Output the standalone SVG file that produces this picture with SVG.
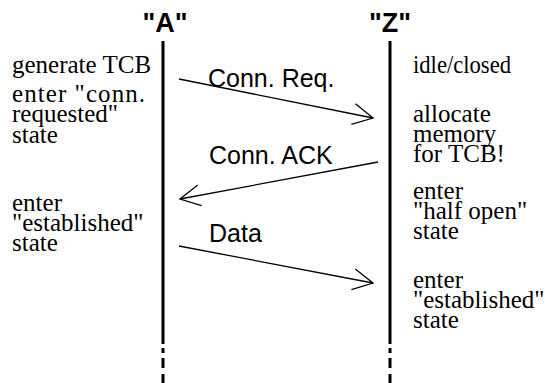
<svg xmlns="http://www.w3.org/2000/svg" width="545" height="383" viewBox="0 0 545 383">
  <style>
    .head { font-family: "Liberation Sans", Arial, sans-serif; font-weight: bold; font-size: 27px; fill: #000; }
    .msg { font-family: "Liberation Sans", Arial, sans-serif; font-size: 25px; fill: #000; }
    .note { font-family: "Liberation Serif", "Times New Roman", serif; font-size: 25px; fill: #000; }
    .life { stroke: #000; stroke-width: 3; fill: none; }
    .arrow { stroke: #000; stroke-width: 1.3; fill: none; marker-end: url(#open); }
  </style>
  <defs>
    <marker id="open" markerUnits="userSpaceOnUse" viewBox="-22 -13 24 26" markerWidth="24" markerHeight="26" refX="0" refY="0" orient="auto">
      <path d="M-20,-10.5 L0,0 L-20,10.5" fill="none" stroke="#000" stroke-width="1.3"/>
    </marker>
  </defs>
  <rect width="545" height="383" fill="#fff"/>

  <!-- endpoint A -->
  <g id="host-a">
    <text class="head" x="165" y="32" text-anchor="middle">"A"</text>
    <line class="life" x1="163" y1="41" x2="163" y2="344"/>
    <path class="life" d="M163,348 V353 M163,358 V368 M163,374 V383"/>
    <text class="note" x="12" y="73">generate TCB</text>
    <text class="note" x="12" y="102" textLength="133" lengthAdjust="spacing">enter "conn.</text>
    <text class="note" x="12" y="122">requested"</text>
    <text class="note" x="12" y="143">state</text>
    <text class="note" x="12" y="211">enter</text>
    <text class="note" x="12" y="231">"established"</text>
    <text class="note" x="12" y="251">state</text>
  </g>

  <!-- endpoint Z -->
  <g id="host-z">
    <text class="head" x="390" y="32" text-anchor="middle">"Z"</text>
    <line class="life" x1="390" y1="41" x2="390" y2="344"/>
    <path class="life" d="M390,348 V353 M390,358 V368 M390,374 V383"/>
    <text class="note" x="413" y="73" textLength="98" lengthAdjust="spacingAndGlyphs">idle/closed</text>
    <text class="note" x="413" y="122">allocate</text>
    <text class="note" x="413" y="142">memory</text>
    <text class="note" x="413" y="162">for TCB!</text>
    <text class="note" x="413" y="199">enter</text>
    <text class="note" x="413" y="219">"half open"</text>
    <text class="note" x="413" y="239">state</text>
    <text class="note" x="413" y="288">enter</text>
    <text class="note" x="413" y="308">"established"</text>
    <text class="note" x="413" y="328">state</text>
  </g>

  <!-- messages -->
  <g id="messages">
    <line class="arrow" x1="179" y1="79" x2="373" y2="118"/>
    <text class="msg" x="208" y="87">Conn. Req.</text>
    <line class="arrow" x1="378" y1="162" x2="180" y2="199"/>
    <text class="msg" x="209" y="164">Conn. ACK</text>
    <line class="arrow" x1="179" y1="246" x2="373" y2="283"/>
    <text class="msg" x="209" y="242">Data</text>
  </g>
</svg>
